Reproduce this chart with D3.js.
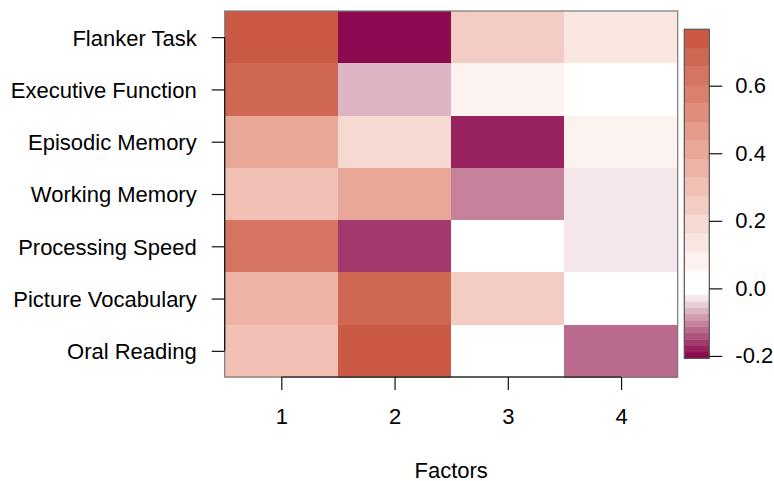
<!DOCTYPE html>
<html>
<head>
<meta charset="utf-8">
<script src="https://cdn.jsdelivr.net/npm/d3@7"></script>
<style>
  html, body { margin: 0; padding: 0; background: #fff; }
  svg { display: block; font-family: "Liberation Sans", Arial, sans-serif; }
</style>
</head>
<body>
<svg id="chart" width="774" height="481"></svg>
<script>
// ---- data ----
const tasks = ["Flanker Task", "Executive Function", "Episodic Memory", "Working Memory",
               "Processing Speed", "Picture Vocabulary", "Oral Reading"];
const factors = ["1", "2", "3", "4"];
const factor1 = [0.767, 0.68, 0.41, 0.30, 0.63, 0.35, 0.30];
const factor2 = [-0.207, -0.07, 0.19, 0.41, -0.16, 0.68, 0.74];
const factor3 = [0.25, 0.08, -0.18, -0.10, 0.01, 0.25, 0.0];
const factor4 = [0.13, 0.02, 0.08, -0.03, -0.03, 0.02, -0.12];
const legendTicks = [-0.2, 0.0, 0.2, 0.4, 0.6];
const legendRange = [-0.207, 0.767];
const xTitle = "Factors";

const loadings = [factor1, factor2, factor3, factor4];
const cells = [];
tasks.forEach((t, r) => factors.forEach((f, c) => cells.push({task: t, factor: f, value: loadings[c][r]})));

// ---- colours (binned each side of zero) ----
const nPos = 14, nNeg = 11;
const posInterp = d3.piecewise(d3.interpolateRgb, ["#FFFFFF", "#ECAE9E", "#CB5A44"]);
const negInterp = d3.piecewise(d3.interpolateRgb, ["#8B0A50", "#C6829C", "#FFFFFF"]);
const posCols = d3.range(nPos).map(i => posInterp(i / (nPos - 1)));
const negCols = d3.range(nNeg).map(i => negInterp(i / (nNeg - 1)));
const [vmin, vmax] = legendRange;
function colorOf(v) {
  if (v >= 0) {
    const k = Math.min(nPos - 1, Math.floor(v / (vmax / nPos)));
    return posCols[k];
  } else {
    const k = Math.min(nNeg - 1, Math.max(0, Math.floor((v - vmin) / (-vmin / nNeg))));
    return negCols[k];
  }
}

// ---- layout ----
const svg = d3.select("#chart");
const fs = 22;
const plot = {left: 224.7, right: 677.7, top: 11, bottom: 377};

const x = d3.scaleBand().domain(factors).range([plot.left, plot.right]).padding(0);
const y = d3.scaleBand().domain(tasks).range([plot.top, plot.bottom]).padding(0);

svg.append("g").selectAll("rect").data(cells).join("rect")
  .attr("x", d => x(d.factor))
  .attr("y", d => y(d.task))
  .attr("width", x.bandwidth() + 0.5)
  .attr("height", y.bandwidth() + 0.5)
  .attr("fill", d => colorOf(d.value))
  .attr("shape-rendering", "crispEdges");

// plot box
svg.append("rect")
  .attr("x", plot.left).attr("y", plot.top)
  .attr("width", plot.right - plot.left).attr("height", plot.bottom - plot.top)
  .attr("fill", "none").attr("stroke", "#7a7a7a").attr("stroke-width", 1.2);

// axes
const tickLen = 13;
const yAxis = svg.append("g").attr("transform", `translate(${plot.left},0)`)
  .call(d3.axisLeft(d3.scalePoint().domain(tasks).range([y(tasks[0]) + y.bandwidth() / 2, y(tasks[tasks.length - 1]) + y.bandwidth() / 2]))
    .tickSize(tickLen).tickPadding(15));
yAxis.select(".domain").attr("d", `M0,${y(tasks[0]) + y.bandwidth() / 2}V${y(tasks[tasks.length - 1]) + y.bandwidth() / 2}`)
  .attr("stroke", "#111").attr("stroke-width", 1.2);
yAxis.selectAll(".tick line").attr("stroke", "#111").attr("stroke-width", 1.2);
yAxis.selectAll(".tick text").attr("font-size", fs).attr("fill", "#000")
  .attr("font-family", "Liberation Sans, Arial, sans-serif").attr("dy", "0.36em");

const xAxis = svg.append("g").attr("transform", `translate(0,${plot.bottom})`)
  .call(d3.axisBottom(d3.scalePoint().domain(factors).range([x(factors[0]) + x.bandwidth() / 2, x(factors[factors.length - 1]) + x.bandwidth() / 2]))
    .tickSize(tickLen).tickPadding(18));
xAxis.select(".domain").attr("d", `M${x(factors[0]) + x.bandwidth() / 2},0H${x(factors[factors.length - 1]) + x.bandwidth() / 2}`)
  .attr("stroke", "#111").attr("stroke-width", 1.2);
xAxis.selectAll(".tick line").attr("stroke", "#111").attr("stroke-width", 1.2);
xAxis.selectAll(".tick text").attr("font-size", fs).attr("fill", "#000")
  .attr("font-family", "Liberation Sans, Arial, sans-serif");

svg.append("text").attr("x", (plot.left + plot.right) / 2).attr("y", 477.5)
  .attr("text-anchor", "middle").attr("font-size", fs).text(xTitle);

// ---- colour legend ----
const leg = {left: 684.3, right: 709.3, top: 29.3, bottom: 358.3};
const ly = d3.scaleLinear().domain(legendRange).range([leg.bottom, leg.top]);
const bins = [];
for (let i = 0; i < nNeg; i++) {
  bins.push({lo: vmin + i * (-vmin / nNeg), hi: vmin + (i + 1) * (-vmin / nNeg), col: negCols[i]});
}
for (let i = 0; i < nPos; i++) {
  bins.push({lo: i * (vmax / nPos), hi: (i + 1) * (vmax / nPos), col: posCols[i]});
}
svg.append("g").selectAll("rect").data(bins).join("rect")
  .attr("x", leg.left).attr("width", leg.right - leg.left)
  .attr("y", d => ly(d.hi)).attr("height", d => ly(d.lo) - ly(d.hi) + 0.4)
  .attr("fill", d => d.col);
svg.append("rect").attr("x", leg.left).attr("y", leg.top)
  .attr("width", leg.right - leg.left).attr("height", leg.bottom - leg.top)
  .attr("fill", "none").attr("stroke", "#555").attr("stroke-width", 1.2);

const lAxis = svg.append("g").attr("transform", `translate(${leg.right},0)`)
  .call(d3.axisRight(ly).tickValues(legendTicks).tickFormat(d3.format(".1f")).tickSize(tickLen).tickPadding(13));
lAxis.select(".domain").remove();
lAxis.selectAll(".tick line").attr("stroke", "#111").attr("stroke-width", 1.2);
lAxis.selectAll(".tick text").attr("font-size", fs).attr("fill", "#000")
  .attr("font-family", "Liberation Sans, Arial, sans-serif")
  .text(d => d < 0 ? "-" + d3.format(".1f")(-d) : d3.format(".1f")(d));
</script>
</body>
</html>
